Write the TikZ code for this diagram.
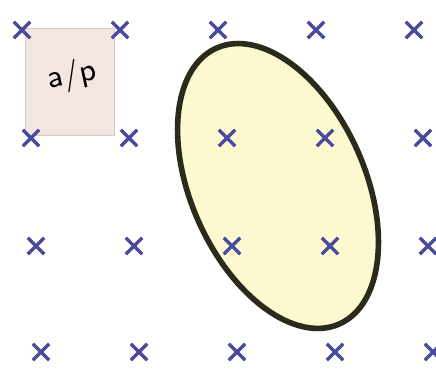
\documentclass[tikz,border=0pt]{standalone}
\usepackage{tikz}
\usetikzlibrary{shapes.misc}
\definecolor{fluxblue}{HTML}{4A4A9C}
\definecolor{loopfill}{HTML}{FCF8D0}
\definecolor{loopline}{HTML}{2B2B1C}
\definecolor{areafill}{HTML}{F3E5DF}
\definecolor{arealine}{HTML}{D9C9C2}

\tikzset{
  fieldx/.style={cross out, draw=fluxblue, line width=0.95pt, minimum size=0.13cm, inner sep=0pt},
  loopring/.style={draw=loopline, fill=loopfill, line width=1.6pt},
  areabox/.style={draw=arealine, fill=areafill, line width=0.4pt}
}

\begin{document}
\begin{tikzpicture}

        % Frame
        \useasboundingbox (0,0) rectangle (4.36,3.70);
        \clip (0,0) rectangle (4.36,3.70);

        % Area element
        \node[areabox, minimum width=0.89cm, minimum height=1.07cm, inner sep=0pt] (area) at (0.70,2.88) {};
        \node[rotate=12, font=\sffamily\small] (arealabel) at (0.72,2.94) {a/p};

        % Loop
        \draw[loopring] (2.78,1.84) ellipse [x radius=0.87, y radius=1.51, rotate=24];

        % Field into the page
        \foreach \row/\y/\dx in {1/3.40/0, 2/2.32/0.09, 3/1.24/0.14, 4/0.18/0.19} {
            \foreach \col in {0,...,4} {
                \node[fieldx] (x\row\col) at ({0.22+0.98*\col+\dx},\y) {};
            }
        }

    \end{tikzpicture}
\end{document}
